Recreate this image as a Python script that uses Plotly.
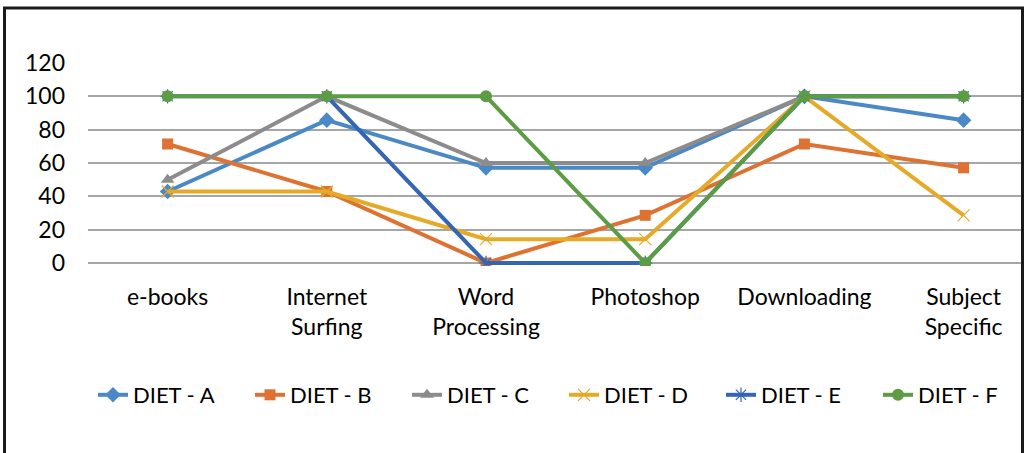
import plotly.graph_objects as go

# Categories along the x axis
categories = ["e-books", "Internet<br>Surfing", "Word<br>Processing",
              "Photoshop", "Downloading", "Subject<br>Specific"]

# Percentage values per DIET
diet_a = [42.9, 85.7, 57.1, 57.1, 100, 85.7]
diet_b = [71.4, 42.9, 0, 28.6, 71.4, 57.1]
diet_c = [50, 100, 60, 60, 100, 100]
diet_d = [42.9, 42.9, 14.3, 14.3, 100, 28.6]
diet_e = [100, 100, 0, 0, 100, 100]
diet_f = [100, 100, 100, 0, 100, 100]

y_ticks = [0, 20, 40, 60, 80, 100, 120]

series = [
    ("DIET - A", diet_a, "#4A89C5", dict(symbol="diamond", size=12)),
    ("DIET - B", diet_b, "#DD7232", dict(symbol="square", size=11)),
    ("DIET - C", diet_c, "#8C8C8C", dict(symbol="triangle-up", size=12)),
    ("DIET - D", diet_d, "#E5AA28", dict(symbol="x-thin-open", size=12,
                                         line=dict(width=1.2, color="#E5AA28"))),
    ("DIET - E", diet_e, "#3565B5", dict(symbol="asterisk-open", size=12,
                                         line=dict(width=1.2, color="#3565B5"))),
    ("DIET - F", diet_f, "#5B9C45", dict(symbol="circle", size=12)),
]

fig = go.Figure()
for i, (name, vals, color, marker) in enumerate(series):
    m = dict(color=color, **marker)
    fig.add_trace(go.Scatter(
        x=list(range(len(categories))), y=vals, name=name,
        mode="lines+markers",
        line=dict(color=color, width=4),
        marker=m,
        # last legend entry only needs room for its own text
        legendwidth=112 if i < len(series) - 1 else 80,
    ))

W, H = 1026, 453
ml, mr, mt, mb = 88, 5, 63, 187
pw, ph = W - ml - mr, H - mt - mb
y_low = 120 - ph / (200 / 120)   # small pad below zero so the 0-level lines are not clipped


def px_x(X):
    return (X - ml) / pw


def px_y(Y):
    return (H - mb - Y) / ph


fig.update_layout(
    width=W, height=H,
    margin=dict(l=ml, r=mr, t=mt, b=mb),
    paper_bgcolor="white", plot_bgcolor="white",
    font=dict(family="Lato, Arial, sans-serif", size=23, color="#000000"),
    showlegend=True,
    legend=dict(
        orientation="h",
        xref="container", yref="container",
        x=(103 - 10) / W, y=1 - (374 / H),
        xanchor="left", yanchor="top",
        entrywidthmode="pixels",
        font=dict(size=22),
        bgcolor="rgba(0,0,0,0)",
    ),
    xaxis=dict(
        range=[-0.5, -0.5 + pw / 159.2],
        tickmode="array",
        tickvals=list(range(len(categories))),
        ticktext=categories,
        showgrid=False, zeroline=False, showline=False,
        ticks="", ticklabelstandoff=15,
        tickfont=dict(size=23),
    ),
    yaxis=dict(
        range=[y_low, 120],
        tickmode="array", tickvals=y_ticks,
        showgrid=True, gridcolor="#A6A6A6", gridwidth=1.5,
        zeroline=False, showline=False,
        ticks="", ticklabelstandoff=22,
        tickfont=dict(size=23),
    ),
    shapes=[
        dict(type="path", xref="paper", yref="paper",
             path=(f"M {px_x(4.5)},{px_y(470)} L {px_x(4.5)},{px_y(8)} "
                   f"L {px_x(1022.5)},{px_y(8)} L {px_x(1022.5)},{px_y(470)}"),
             line=dict(color="#1a1a1a", width=3)),
    ],
)

fig.write_html("out.html")
